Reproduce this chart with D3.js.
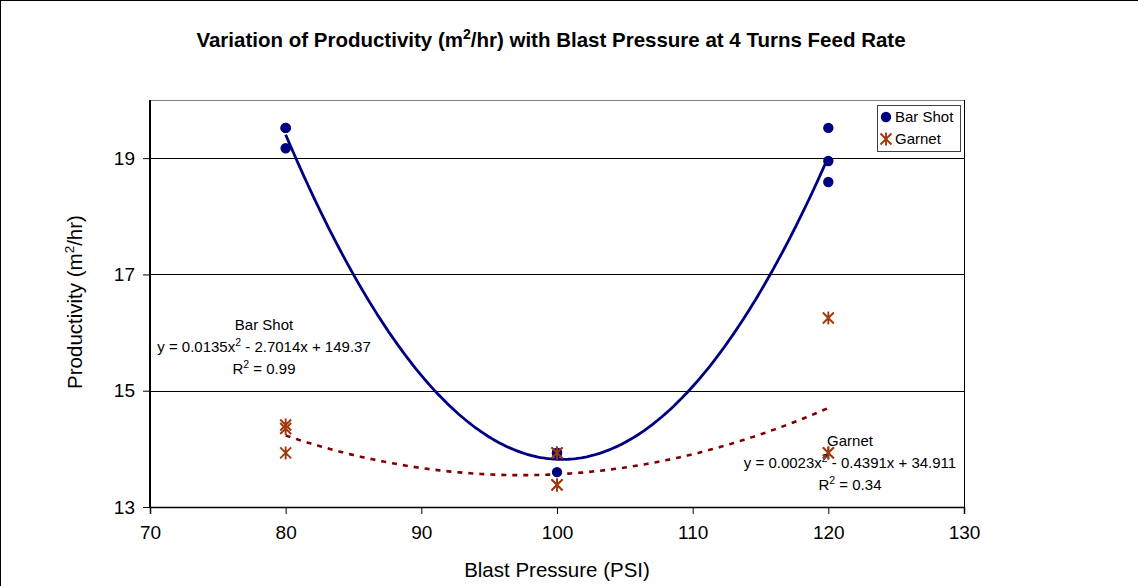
<!DOCTYPE html>
<html><head><meta charset="utf-8">
<script src="https://cdn.jsdelivr.net/npm/d3@7"></script>
<style>
html,body{margin:0;padding:0;background:#fff;}
svg{display:block;font-family:"Liberation Sans",Arial,sans-serif;}
</style></head>
<body>
<svg id="c" width="1138" height="586"></svg>
<script>
// ---- data ----
const xTicks = [70, 80, 90, 100, 110, 120, 130];
const yTicks = [13, 15, 17, 19];
const barShotX = [80, 80, 80, 100, 100, 100, 120, 120, 120];
const barShotY = [19.52, 19.52, 19.17, 13.93, 13.93, 13.60, 19.52, 18.95, 18.59];
const garnetX  = [80, 80, 80, 100, 100, 100, 120, 120, 120];
const garnetY  = [14.41, 14.35, 13.93, 13.93, 13.38, 13.38, 16.25, 13.93, 13.93];
const seriesNames = ["Bar Shot", "Garnet"];
const barShotLabel = ["Bar Shot", ["y = 0.0135x", "2", " - 2.7014x + 149.37"], ["R", "2", " = 0.99"]];
const garnetLabel  = ["Garnet", ["y = 0.0023x", "2", " - 0.4391x + 34.911"], ["R", "2", " = 0.34"]];

const W = 1138, H = 586;
const L = 150, R = 964, T = 100, B = 507;
const svg = d3.select("#c");
const x = d3.scaleLinear().domain([70, 130]).range([L, R]);
const y = d3.scaleLinear().domain([13, 20]).range([B, T]);

// outer chart border
svg.append("line").attr("x1", 0).attr("x2", W).attr("y1", 0.5).attr("y2", 0.5).attr("stroke", "#000");
svg.append("line").attr("x1", 0.5).attr("x2", 0.5).attr("y1", 0).attr("y2", H).attr("stroke", "#000");

// plot area frame (top grey, right black)
svg.append("line").attr("x1", L).attr("x2", R).attr("y1", T + 0.5).attr("y2", T + 0.5).attr("stroke", "#808080");
svg.append("line").attr("x1", R + 0.5).attr("x2", R + 0.5).attr("y1", T).attr("y2", B).attr("stroke", "#000");

// gridlines
svg.append("g").selectAll("line").data(yTicks.filter(d => d > 13)).join("line")
  .attr("x1", L).attr("x2", R)
  .attr("y1", d => Math.round(y(d)) + 0.5).attr("y2", d => Math.round(y(d)) + 0.5)
  .attr("stroke", "#000").attr("stroke-width", 1);

// axes
const xAxis = svg.append("g").attr("transform", `translate(0,${B})`)
  .call(d3.axisBottom(x).tickValues(xTicks).tickSize(7).tickPadding(12).tickFormat(d3.format("d")));
xAxis.select(".domain").attr("stroke", "#000").attr("stroke-width", 1.5);
xAxis.selectAll(".tick line").attr("stroke", "#000");
xAxis.selectAll(".tick text").attr("font-size", 19).attr("fill", "#000")
  .attr("font-family", "Liberation Sans, Arial, sans-serif");

const yAxis = svg.append("g").attr("transform", `translate(${L},0)`)
  .call(d3.axisLeft(y).tickValues(yTicks).tickSize(7).tickPadding(8).tickFormat(d3.format("d")));
yAxis.select(".domain").attr("stroke", "#000").attr("stroke-width", 2).attr("d", `M0,${T}V${B}`);
yAxis.selectAll(".tick line").attr("stroke", "#000");
yAxis.selectAll(".tick text").attr("font-size", 19).attr("fill", "#000")
  .attr("font-family", "Liberation Sans, Arial, sans-serif");

// least-squares quadratic trendline from the data
function quadFit(xs, ys) {
  let n = xs.length, s = [0,0,0,0,0], t = [0,0,0];
  for (let i = 0; i < n; i++) {
    const xi = xs[i], yi = ys[i];
    for (let k = 0; k <= 4; k++) s[k] += Math.pow(xi, k);
    for (let k = 0; k <= 2; k++) t[k] += Math.pow(xi, k) * yi;
  }
  const M = [[s[0], s[1], s[2], t[0]], [s[1], s[2], s[3], t[1]], [s[2], s[3], s[4], t[2]]];
  for (let i = 0; i < 3; i++) {
    for (let j = i + 1; j < 3; j++) {
      const f = M[j][i] / M[i][i];
      for (let k = i; k < 4; k++) M[j][k] -= f * M[i][k];
    }
  }
  const c = [0,0,0];
  for (let i = 2; i >= 0; i--) {
    let v = M[i][3];
    for (let k = i + 1; k < 3; k++) v -= M[i][k] * c[k];
    c[i] = v / M[i][i];
  }
  return xv => c[0] + c[1] * xv + c[2] * xv * xv;
}
const line = d3.line().x(d => x(d[0])).y(d => y(d[1])).curve(d3.curveLinear);
function trend(xs, ys) {
  const f = quadFit(xs, ys);
  const lo = d3.min(xs), hi = d3.max(xs);
  return d3.range(0, 201).map(i => { const xv = lo + (hi - lo) * i / 200; return [xv, f(xv)]; });
}

// Bar Shot trendline
svg.append("path").datum(trend(barShotX, barShotY)).attr("d", line)
  .attr("fill", "none").attr("stroke", "#000080").attr("stroke-width", 2.8);
// Garnet trendline
svg.append("path").datum(trend(garnetX, garnetY)).attr("d", line)
  .attr("fill", "none").attr("stroke", "#800000").attr("stroke-width", 2.6)
  .attr("stroke-dasharray", "5,6");

// markers
function star(g, cx, cy, s) {
  const p = `M${cx - s},${cy - s}L${cx + s},${cy + s}M${cx - s},${cy + s}L${cx + s},${cy - s}M${cx},${cy - s - 1}L${cx},${cy + s + 1}`;
  g.append("path").attr("d", p).attr("stroke", "#A03A0A").attr("stroke-width", 1.9).attr("fill", "none");
}
const gm = svg.append("g");
garnetX.forEach((xv, i) => star(gm, x(xv), y(garnetY[i]), 5.5));
svg.append("g").selectAll("circle").data(barShotX.map((xv, i) => [xv, barShotY[i]])).join("circle")
  .attr("cx", d => x(d[0])).attr("cy", d => y(d[1])).attr("r", 5.2).attr("fill", "#000080");

// garnet marker drawn over the overlapping bar shot marker at 100
garnetX.forEach((xv, i) => { if (xv === 100 && garnetY[i] > 13.8) star(svg, x(xv), y(garnetY[i]), 5.5); });

// legend
const lg = svg.append("g");
lg.append("rect").attr("x", 877.5).attr("y", 105.5).attr("width", 83).attr("height", 46)
  .attr("fill", "#fff").attr("stroke", "#404040").attr("stroke-width", 1);
lg.append("circle").attr("cx", 886).attr("cy", 117).attr("r", 5.2).attr("fill", "#000080");
star(lg, 886, 139, 5.5);
seriesNames.forEach((n, i) => {
  lg.append("text").attr("x", 895).attr("y", 122 + i * 22).attr("font-size", 15).attr("fill", "#000").text(n);
});

// trendline labels
function label(lines, cx, y0) {
  const t = svg.append("g");
  lines.forEach((ln, i) => {
    const tx = t.append("text").attr("x", cx).attr("y", y0 + i * 22).attr("text-anchor", "middle")
      .attr("font-size", 15).attr("fill", "#000");
    if (typeof ln === "string") tx.text(ln);
    else {
      tx.append("tspan").text(ln[0]);
      tx.append("tspan").attr("dy", -6).attr("font-size", 10.5).text(ln[1]);
      tx.append("tspan").attr("dy", 6).text(ln[2]);
    }
  });
}
label(barShotLabel, 264, 330);
label(garnetLabel, 850, 446);

// titles
const title = svg.append("text").attr("x", 551).attr("y", 47).attr("text-anchor", "middle")
  .attr("font-size", 20.5).attr("font-weight", "bold").attr("fill", "#000");
title.append("tspan").text("Variation of Productivity (m");
title.append("tspan").attr("dy", -8).attr("font-size", 14).text("2");
title.append("tspan").attr("dy", 8).text("/hr) with Blast Pressure at 4 Turns Feed Rate");

svg.append("text").attr("x", 557).attr("y", 577).attr("text-anchor", "middle")
  .attr("font-size", 20.5).attr("fill", "#000").text("Blast Pressure (PSI)");

const yl = svg.append("text").attr("transform", "translate(82,302) rotate(-90)").attr("text-anchor", "middle")
  .attr("font-size", 20.5).attr("fill", "#000");
yl.append("tspan").text("Productivity (m");
yl.append("tspan").attr("dy", -8).attr("font-size", 13.5).text("2");
yl.append("tspan").attr("dy", 8).text("/hr)");
</script>
</body></html>
